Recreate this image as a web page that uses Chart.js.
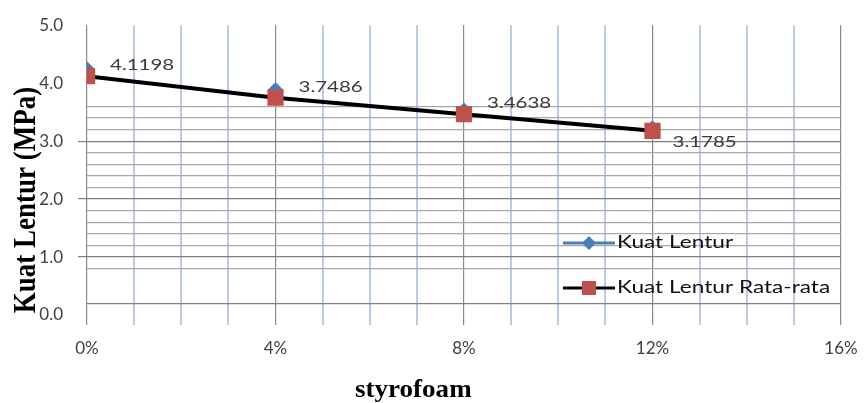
<!DOCTYPE html>
<html>
<head>
<meta charset="utf-8">
<script src="https://cdn.jsdelivr.net/npm/chart.js@4"></script>
<style>
  html, body { margin: 0; padding: 0; background: #fff; }
  #wrap { width: 864px; height: 403px; }
</style>
</head>
<body>
<div id="wrap"><canvas id="grafik"></canvas></div>
<script>
// data kuat lentur terhadap kadar styrofoam
const kadarStyrofoam = [0, 4, 8, 12];
const kuatLentur = [4.24, 3.88, 3.53, 3.22];
const kuatLenturRata = [4.1198, 3.7486, 3.4638, 3.1785];
const labelRata = ['4.1198', '3.7486', '3.4638', '3.1785'];
const namaSeri = ['Kuat Lentur', 'Kuat Lentur Rata-rata'];
const judulX = 'styrofoam';
const judulY = 'Kuat Lentur (MPa)';

const BIRU = '#4a7ebb';
const MERAH = '#c0504d';

function dekat(a, b) { return Math.abs(a - b) < 1e-6; }

// tulis teks, bisa ditarik horizontal (gambar asli agak melebar)
function tulis(ctx, s, x, y, font, warna, sx, align, baseline) {
    ctx.save();
    ctx.font = font;
    ctx.fillStyle = warna;
    ctx.textAlign = align || 'left';
    ctx.textBaseline = baseline || 'middle';
    ctx.translate(x, y);
    ctx.scale(sx, 1);
    ctx.fillText(s, 0, 0);
    ctx.restore();
}

const pluginTambahan = {
    id: 'tambahan',
    afterDatasetsDraw(chart) {
        const ctx = chart.ctx;
        const sx = chart.scales.x, sy = chart.scales.y;

        // label nilai rata-rata
        kuatLenturRata.forEach((v, i) => {
            const px = sx.getPixelForValue(kadarStyrofoam[i]);
            const py = sy.getPixelForValue(v);
            const terakhir = i === kuatLenturRata.length - 1;
            tulis(ctx, labelRata[i], px + (terakhir ? 20 : 23), py + (terakhir ? 11 : -11),
                '16px Lato', '#3a3a3a', 1.28);
        });

        // legenda
        const lx1 = 563, lx2 = 615, ly = [243, 288];
        ctx.save();
        ctx.lineWidth = 3;
        ctx.strokeStyle = BIRU;
        ctx.beginPath(); ctx.moveTo(lx1, ly[0]); ctx.lineTo(lx2, ly[0]); ctx.stroke();
        ctx.fillStyle = BIRU;
        const mx = (lx1 + lx2) / 2;
        ctx.beginPath();
        ctx.moveTo(mx - 7, ly[0]); ctx.lineTo(mx, ly[0] - 7); ctx.lineTo(mx + 7, ly[0]); ctx.lineTo(mx, ly[0] + 7);
        ctx.closePath(); ctx.fill();
        ctx.strokeStyle = '#000';
        ctx.beginPath(); ctx.moveTo(lx1, ly[1]); ctx.lineTo(lx2, ly[1]); ctx.stroke();
        ctx.fillStyle = MERAH;
        ctx.fillRect(mx - 7, ly[1] - 7, 14, 14);
        ctx.restore();
        namaSeri.forEach((n, i) => tulis(ctx, n, lx2 + 2, ly[i], '17px Lato', '#111', 1.33));

        // judul sumbu
        tulis(ctx, judulX, 355, 397, 'bold 26px "Liberation Serif"', '#000', 1.04, 'left', 'alphabetic');
        ctx.save();
        ctx.translate(35, 200);
        ctx.scale(1.2, 1);
        ctx.rotate(-Math.PI / 2);
        ctx.font = 'bold 27px "Liberation Serif"';
        ctx.fillStyle = '#000';
        ctx.textAlign = 'center';
        ctx.textBaseline = 'alphabetic';
        ctx.fillText(judulY, 0, 0);
        ctx.restore();
    }
};

const ctx = document.getElementById('grafik').getContext('2d');
new Chart(ctx, {
    type: 'scatter',
    data: {
        datasets: [{
            label: namaSeri[0],
            data: kadarStyrofoam.map((x, i) => ({ x: x, y: kuatLentur[i] })),
            showLine: false,
            pointStyle: 'rectRot',
            pointRadius: 8,
            backgroundColor: BIRU,
            borderColor: BIRU,
            borderWidth: 0,
            order: 2
        }, {
            label: namaSeri[1],
            data: kadarStyrofoam.map((x, i) => ({ x: x, y: kuatLenturRata[i] })),
            showLine: true,
            borderColor: '#000',
            borderWidth: 4,
            pointStyle: 'rect',
            pointRadius: 11.5,
            pointBackgroundColor: MERAH,
            pointBorderWidth: 0,
            order: 1
        }]
    },
    options: {
        responsive: true,
        maintainAspectRatio: false,
        animation: false,
        layout: { padding: { left: 0, right: 23, top: 25, bottom: 0 } },
        plugins: { legend: { display: false }, tooltip: { enabled: false } },
        scales: {
            x: {
                type: 'linear', min: 0, max: 16,
                afterFit: s => { s.height = 88; s.paddingRight = 0; s.paddingLeft = 0; },
                border: { display: false },
                grid: {
                    color: c => c.tick.value % 4 === 0 ? '#8a8a8a' : '#b9c9e6',
                    lineWidth: c => c.tick.value % 4 === 0 ? 1.2 : 2,
                    tickLength: 10
                },
                ticks: {
                    stepSize: 1, autoSkip: false, maxRotation: 0, padding: 13,
                    color: '#404040', font: { family: 'Lato', size: 17 },
                    callback: v => v % 4 === 0 ? v + '%' : ''
                }
            },
            y: {
                min: 0, max: 5,
                afterFit: s => { s.width = 87; },
                border: { display: false },
                grid: {
                    color: c => {
                        const v = c.tick.value;
                        if (dekat(v, 1) || dekat(v, 2) || dekat(v, 3) || dekat(v, 0.2)) return '#7f7f7f';
                        if (v > 0.7 && v < 3.7) return '#a8a8a8';
                        return 'rgba(0,0,0,0)';
                    },
                    lineWidth: 1.2,
                    tickLength: 9,
                    tickColor: c => {
                        const v = c.tick.value;
                        return (dekat(v, 1) || dekat(v, 2) || dekat(v, 3)) ? '#7f7f7f' : 'rgba(0,0,0,0)';
                    }
                },
                ticks: {
                    stepSize: 0.2, autoSkip: false, padding: 15,
                    color: '#404040', font: { family: 'Lato', size: 17 },
                    callback: v => dekat(v, Math.round(v)) ? v.toFixed(1) : ''
                }
            }
        }
    },
    plugins: [pluginTambahan]
});
</script>
</body>
</html>
